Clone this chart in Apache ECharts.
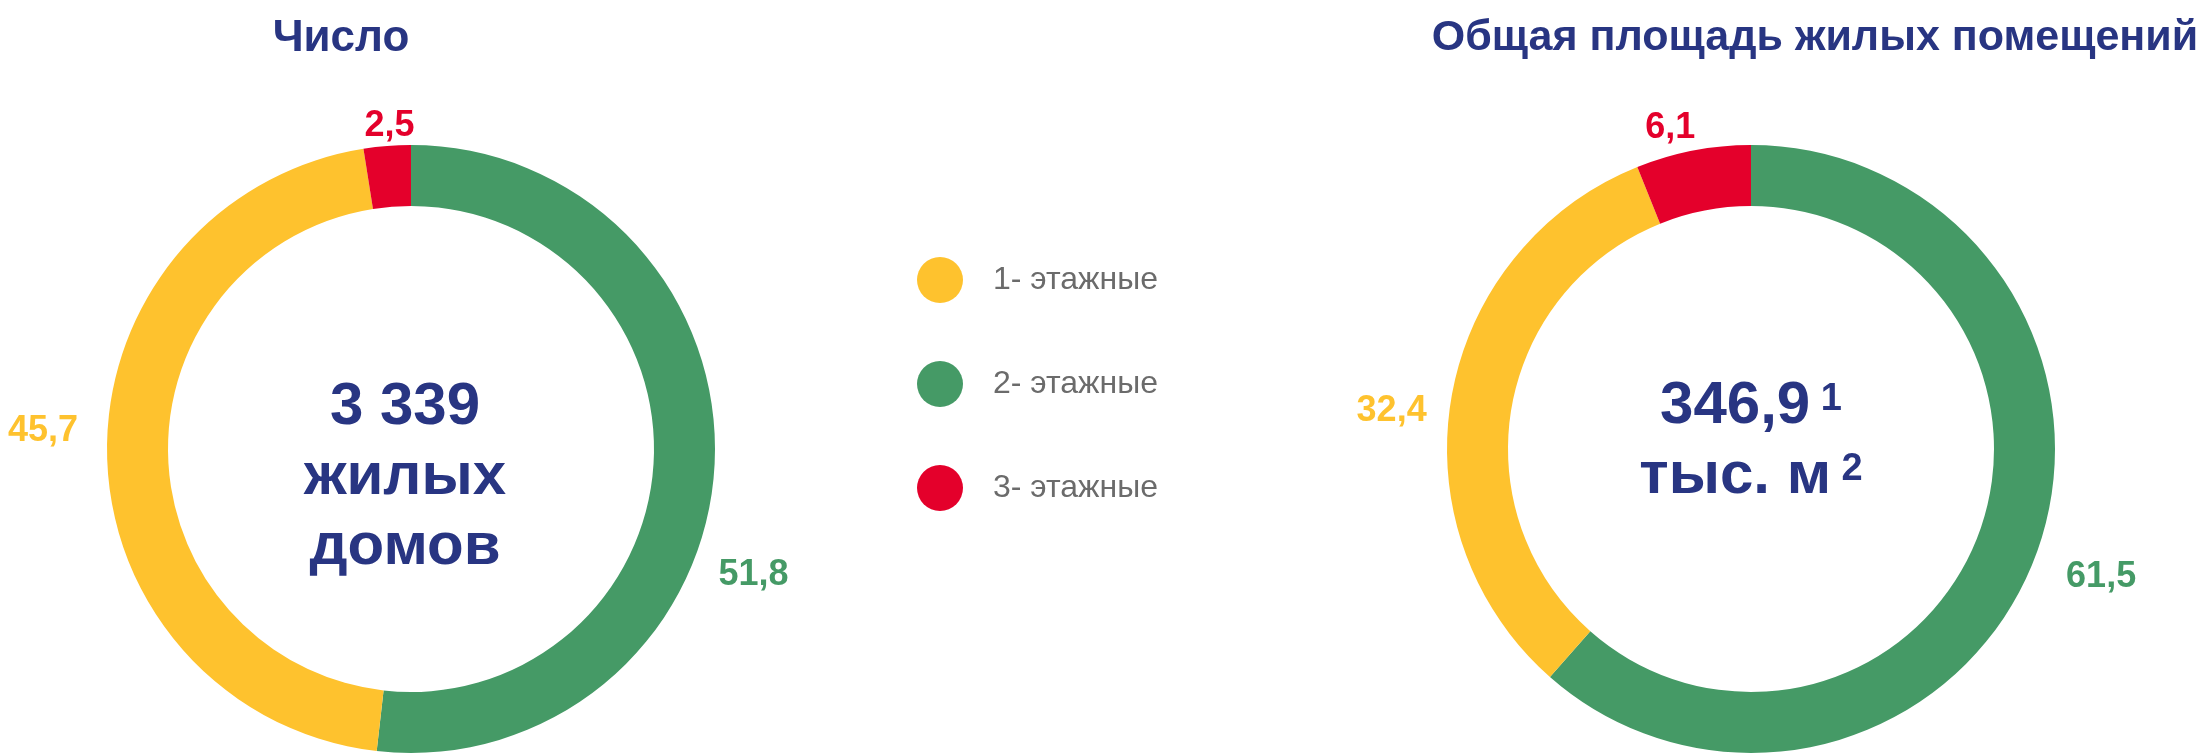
<!DOCTYPE html>
<html>
<head>
<meta charset="utf-8">
<style>
  html, body { margin: 0; padding: 0; background: #fff; }
  #chart { width: 2200px; height: 754px; }
</style>
<script src="https://cdn.jsdelivr.net/npm/echarts@6/dist/echarts.min.js"></script>
</head>
<body>
<div id="chart"></div>
<script>
// данные
var categories = ['2- этажные', '1- этажные', '3- этажные'];
var legendOrder = ['1- этажные', '2- этажные', '3- этажные'];
var countShares = [51.8, 45.7, 2.5];   // Число, %
var areaShares = [61.5, 32.4, 6.1];    // Общая площадь, %
var titles = ['Число', 'Общая площадь жилых помещений'];

var colors = ['#459a66', '#fec22e', '#e4002b'];
var navy = '#283582';
var font = 'Liberation Sans, Arial, sans-serif';

// сдвиги подписей [dx, dy] по сериям
var labelShift = [
    [[-21, 108], [-4, -25], [34, 0]],
    [[7, 14], [0, 17], [11, -3]]
];

function makeData(values) {
    return values.map(function (v, i) {
        return {
            name: categories[i],
            value: v,
            itemStyle: { color: colors[i] },
            label: { color: colors[i] }
        };
    });
}

function makePie(idx, center, values) {
    return {
        type: 'pie',
        center: center,
        radius: [243, 304],
        startAngle: 90,
        clockwise: true,
        silent: true,
        animation: false,
        avoidLabelOverlap: false,
        label: {
            show: true,
            position: 'outside',
            fontFamily: font,
            fontSize: 36,
            fontWeight: 'bold',
            formatter: function (p) {
                return String(p.value).replace('.', ',');
            }
        },
        labelLine: { show: false, length: 20, length2: 0 },
        labelLayout: function (p) {
            var s = labelShift[idx][p.dataIndex];
            return { dx: s[0], dy: s[1] };
        },
        data: makeData(values)
    };
}

var myChart = echarts.init(document.getElementById('chart'));
var option = {
    backgroundColor: '#ffffff',
    title: [{
        text: titles[0],
        left: 336,
        top: 12,
        textAlign: 'center',
        textStyle: { color: navy, fontFamily: font, fontSize: 44, fontWeight: 'bold' }
    }, {
        text: titles[1],
        left: 1810,
        top: 12,
        textAlign: 'center',
        textStyle: { color: navy, fontFamily: font, fontSize: 43, fontWeight: 'bold' }
    }],
    legend: {
        orient: 'vertical',
        left: 912,
        top: 252,
        icon: 'circle',
        itemWidth: 46,
        itemHeight: 46,
        itemGap: 58,
        selectedMode: false,
        data: legendOrder,
        textStyle: {
            color: '#6b6b6b',
            fontFamily: font,
            fontSize: 32,
            padding: [0, 0, 0, 25]
        }
    },
    graphic: [{
        type: 'text',
        x: 405,
        y: 477,
        silent: true,
        style: {
            text: '3 339\nжилых\nдомов',
            align: 'center',
            verticalAlign: 'middle',
            fill: navy,
            font: 'bold 60px ' + font,
            lineHeight: 70
        }
    }, {
        type: 'text',
        x: 1751,
        y: 441,
        silent: true,
        style: {
            text: '{a|346,9}{s| 1}\n{a|тыс. м}{s| 2}',
            align: 'center',
            verticalAlign: 'middle',
            fill: navy,
            rich: {
                a: { font: 'bold 60px ' + font, lineHeight: 70, fill: navy },
                s: { font: 'bold 38px ' + font, lineHeight: 38, verticalAlign: 'top', padding: [10, 0, 0, 0], fill: navy }
            }
        }
    }],
    series: [
        makePie(0, [411, 449], countShares),
        makePie(1, [1751, 449], areaShares)
    ]
};
myChart.setOption(option);
</script>
</body>
</html>
